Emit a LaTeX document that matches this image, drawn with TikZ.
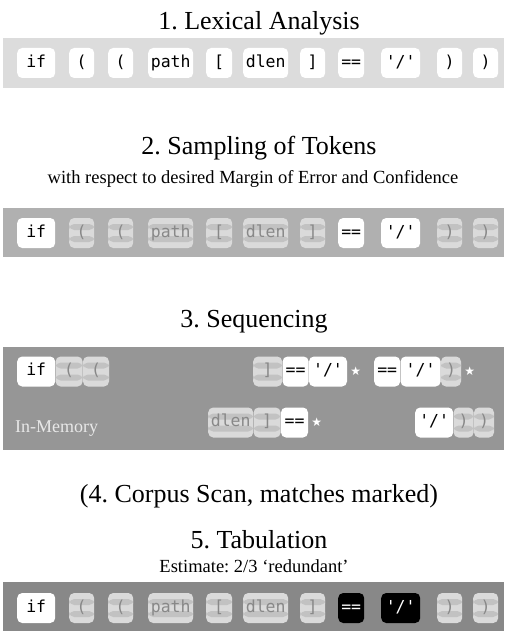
\documentclass[tikz,border=0pt]{standalone}
\usepackage{fontspec}
\setmainfont{Liberation Serif}
\newfontfamily\tokfont{DejaVu Sans Mono}
\newfontfamily\symfont{DejaVu Sans}
\usetikzlibrary{positioning,calc}
\frenchspacing

\definecolor{bandA}{HTML}{DCDCDC}
\definecolor{bandB}{HTML}{B0B0B0}
\definecolor{bandC}{HTML}{969696}
\definecolor{bandE}{HTML}{888888}
\definecolor{stripeA}{HTML}{DADADA}
\definecolor{stripeB}{HTML}{C2C2C2}
\definecolor{fadedtext}{HTML}{888888}
\definecolor{memotext}{HTML}{E8E8E8}

\tikzset{
  tok/.style={rounded corners=5pt, fill=white, minimum height=30pt, inner sep=0pt,
    text height=12pt, text depth=3.5pt, font=\tokfont\fontsize{16.5}{17}\selectfont,
    text=black, anchor=west},
  faded/.style={tok, fill=stripeA, text=fadedtext,
    path picture={
      \foreach \k in {1,3}
        \fill[stripeB] ($(path picture bounding box.north west)!{\k/5}!(path picture bounding box.south west)$)
          rectangle ($(path picture bounding box.north east)!{(\k+1)/5}!(path picture bounding box.south east)$);
    }},
  hit/.style={tok, fill=black, text=white},
  hitstar/.style={inner sep=0pt, text=white, font=\symfont\fontsize{12}{12}\selectfont},
  title/.style={anchor=base, inner sep=0pt, font=\fontsize{26}{30}\selectfont},
  subtitle/.style={anchor=base, inner sep=0pt, font=\fontsize{18.5}{22}\selectfont},
  memo/.style={anchor=base west, inner sep=0pt, text=memotext, font=\fontsize{18}{20}\selectfont}
}

\begin{document}
\begin{tikzpicture}[x=1pt,y=1pt]
    \useasboundingbox (0,0) rectangle (504,-631);

    % 1. Lexical Analysis
    \node[title] (t-lex) at (259,-30) {1. Lexical Analysis};
    \fill[bandA] (3,-38) rectangle (504,-88);
    \node[tok, minimum width=38pt] (a-if) at (17,-63) {if};
    \node[tok, minimum width=25pt] (a-lp1) at (69,-63) {(};
    \node[tok, minimum width=25pt] (a-lp2) at (108,-63) {(};
    \node[tok, minimum width=45pt] (a-path) at (148,-63) {path};
    \node[tok, minimum width=26pt] (a-lb) at (206,-63) {[};
    \node[tok, minimum width=45pt] (a-dlen) at (243,-63) {dlen};
    \node[tok, minimum width=25pt] (a-rb) at (300,-63) {]};
    \node[tok, minimum width=26pt] (a-eq) at (338,-63) {==};
    \node[tok, minimum width=39pt] (a-sl) at (381,-63) {'/'};
    \node[tok, minimum width=25pt] (a-rp1) at (437,-63) {)};
    \node[tok, minimum width=25pt] (a-rp2) at (473,-63) {)};

    % 2. Sampling
    \node[title] (t-samp) at (259,-155) {2. Sampling of Tokens};
    \node[subtitle] (t-samp-sub) at (253,-183) {with respect to desired Margin of Error and Confidence};
    \fill[bandB] (3,-208) rectangle (504,-257);
    \node[tok, minimum width=38pt] (b-if) at (17,-233) {if};
    \node[faded, minimum width=25pt] (b-lp1) at (69,-233) {(};
    \node[faded, minimum width=25pt] (b-lp2) at (108,-233) {(};
    \node[faded, minimum width=45pt] (b-path) at (148,-233) {path};
    \node[faded, minimum width=26pt] (b-lb) at (206,-233) {[};
    \node[faded, minimum width=45pt] (b-dlen) at (243,-233) {dlen};
    \node[faded, minimum width=25pt] (b-rb) at (300,-233) {]};
    \node[tok, minimum width=26pt] (b-eq) at (338,-233) {==};
    \node[tok, minimum width=39pt] (b-sl) at (381,-233) {'/'};
    \node[faded, minimum width=25pt] (b-rp1) at (437,-233) {)};
    \node[faded, minimum width=25pt] (b-rp2) at (473,-233) {)};

    % 3. Sequencing
    \node[title] (t-seq) at (254,-327) {3. Sequencing};
    \fill[bandC] (3,-347) rectangle (504,-450);
    \node[tok, minimum width=38pt] (c-if) at (17,-371.5) {if};
    \node[faded, minimum width=27pt, right=0pt of c-if] (c-lp1) {(};
    \node[faded, minimum width=26pt, right=0pt of c-lp1] (c-lp2) {(};
    \node[faded, minimum width=29pt] (c-rb) at (253,-371.5) {]};
    \node[tok, minimum width=26pt, right=0pt of c-rb] (c-eq) {==};
    \node[tok, minimum width=38pt, right=0pt of c-eq] (c-sl) {'/'};
    \node[hitstar, right=3pt of c-sl] (c-st1) {★};
    \node[tok, minimum width=26pt] (c-eq2) at (374,-371.5) {==};
    \node[tok, minimum width=40pt, right=0pt of c-eq2] (c-sl2) {'/'};
    \node[faded, minimum width=20pt, right=0pt of c-sl2] (c-rp) {)};
    \node[hitstar, right=3pt of c-rp] (c-st2) {★};

    \node[memo] (c-mem) at (15,-432) {In-Memory};
    \node[faded, minimum width=45pt] (c-dlen) at (208,-422.5) {dlen};
    \node[faded, minimum width=27pt, right=0pt of c-dlen] (c-rb2) {]};
    \node[tok, minimum width=27pt, right=0pt of c-rb2] (c-eq3) {==};
    \node[hitstar, right=3pt of c-eq3] (c-st3) {★};
    \node[tok, minimum width=38pt] (c-sl3) at (415,-422.5) {'/'};
    \node[faded, minimum width=20pt, right=0pt of c-sl3] (c-rp2) {)};
    \node[faded, minimum width=20pt, right=0pt of c-rp2] (c-rp3) {)};

    % 4. Corpus Scan
    \node[title] (t-scan) at (259,-502) {(4. Corpus Scan, matches marked)};

    % 5. Tabulation
    \node[title] (t-tab) at (259,-548) {5. Tabulation};
    \node[subtitle] (t-tab-sub) at (254,-572) {Estimate: 2/3 ‘redundant’};
    \fill[bandE] (3,-582) rectangle (504,-631);
    \node[tok, minimum width=38pt] (e-if) at (17,-608) {if};
    \node[faded, minimum width=25pt] (e-lp1) at (69,-608) {(};
    \node[faded, minimum width=25pt] (e-lp2) at (108,-608) {(};
    \node[faded, minimum width=45pt] (e-path) at (148,-608) {path};
    \node[faded, minimum width=26pt] (e-lb) at (206,-608) {[};
    \node[faded, minimum width=45pt] (e-dlen) at (243,-608) {dlen};
    \node[faded, minimum width=25pt] (e-rb) at (300,-608) {]};
    \node[hit, minimum width=26pt] (e-eq) at (338,-608) {==};
    \node[hit, minimum width=39pt] (e-sl) at (381,-608) {'/'};
    \node[faded, minimum width=25pt] (e-rp1) at (437,-608) {)};
    \node[faded, minimum width=25pt] (e-rp2) at (473,-608) {)};
  \end{tikzpicture}
\end{document}
